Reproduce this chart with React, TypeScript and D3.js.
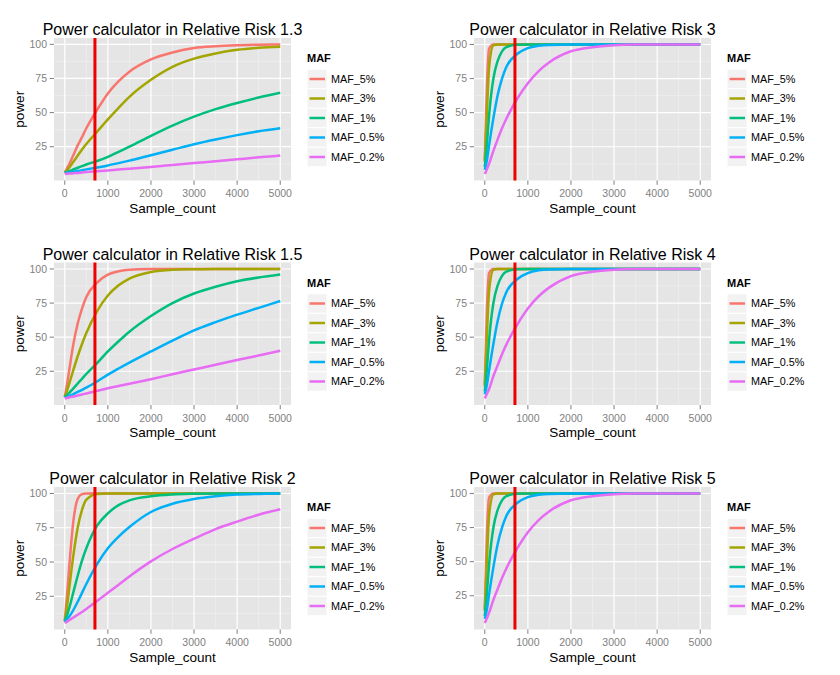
import { scaleLinear, line, curveMonotoneX, extent } from 'd3'

const sampleCounts = [0, 50, 100, 200, 300, 400, 500, 750, 1000, 1250, 1500, 2000, 2500, 3000, 3500, 4000, 4500, 5000]
const mafNames = ['MAF_5%', 'MAF_3%', 'MAF_1%', 'MAF_0.5%', 'MAF_0.2%']
const mafColors = ['#F8766D', '#A3A500', '#00BF7D', '#00B0F6', '#E76BF3']
const xTicks = [0, 1000, 2000, 3000, 4000, 5000]
const yTicks = [25, 50, 75, 100]
const cutoffSample = 700

// power (%) per MAF at sampleCounts
const rr13 = [
  [6, 9, 12, 19, 26, 32, 38.5, 52, 64, 73, 80, 89, 94, 97.3, 98.6, 99.3, 99.7, 99.9],
  [6, 7.5, 9.5, 14, 18.5, 23, 27, 36, 45, 53.5, 61.5, 74, 83.5, 89.5, 93.3, 96, 97.5, 98.3],
  [6, 6.5, 7, 8.3, 9.6, 10.8, 12, 14.5, 17.5, 21.3, 25, 33, 40.5, 47, 52.5, 57, 61, 64.5],
  [5.5, 5.8, 6.1, 6.6, 7.2, 7.8, 8.4, 9.8, 11.3, 13, 14.8, 18.8, 22.8, 26.8, 30.3, 33.5, 36.3, 38.5],
  [5, 5.2, 5.3, 5.6, 5.8, 6.1, 6.4, 7, 7.6, 8.3, 8.9, 10.2, 11.6, 13, 14.4, 15.8, 17.2, 18.5],
]
const rr15 = [
  [6, 15, 25, 45, 60, 71, 79.5, 90, 95.8, 98.3, 99.4, 99.9, 100, 100, 100, 100, 100, 100],
  [6, 10.5, 15.5, 26, 36, 45, 53, 69, 80.5, 88, 93, 97.8, 99.4, 99.8, 100, 100, 100, 100],
  [6, 7.5, 9, 12.5, 16, 19.5, 23, 31, 39.5, 47, 54, 65.5, 75, 82, 87, 91, 93.8, 96],
  [5.5, 6, 6.8, 8.2, 9.8, 11.4, 13, 17.5, 22.5, 27, 31.3, 39.5, 47.5, 55, 61, 66.5, 71.5, 76.5],
  [5, 5.4, 5.8, 6.5, 7.2, 8, 8.7, 10.6, 12.5, 14.2, 15.8, 19.2, 22.8, 26.3, 29.8, 33.2, 36.5, 40],
]
const rr2 = [
  [7, 25, 45, 80, 96, 99.5, 100, 100, 100, 100, 100, 100, 100, 100, 100, 100, 100, 100],
  [7, 17, 30, 55, 75, 88, 95.5, 99.7, 100, 100, 100, 100, 100, 100, 100, 100, 100, 100],
  [7, 11, 16, 28, 40, 51, 60, 76.5, 85.5, 91.5, 95, 98, 99.3, 99.8, 100, 100, 100, 100],
  [6, 8, 10, 15, 21, 27.5, 34, 48.5, 60, 68.5, 75.5, 86.5, 92.5, 96, 98, 99.2, 99.7, 100],
  [5.5, 6.5, 7.5, 9.5, 11.5, 13.5, 15.8, 21.5, 27.5, 33.5, 39.5, 50.5, 59.5, 67, 74, 79.5, 84.5, 88.5],
]
const rr3 = [
  [15, 70, 97, 100, 100, 100, 100, 100, 100, 100, 100, 100, 100, 100, 100, 100, 100, 100],
  [14, 50, 83, 99.3, 100, 100, 100, 100, 100, 100, 100, 100, 100, 100, 100, 100, 100, 100],
  [10, 27, 48, 75, 88, 95, 98, 99.8, 100, 100, 100, 100, 100, 100, 100, 100, 100, 100],
  [8, 15, 26, 46, 63, 75, 83.5, 93, 97.3, 99, 99.7, 100, 100, 100, 100, 100, 100, 100],
  [5, 8.5, 12.5, 22, 30.5, 38.5, 45.5, 60, 71.5, 80.5, 87, 95, 98, 99.4, 99.9, 100, 100, 100],
]
const rr4 = [
  [15, 71, 97, 100, 100, 100, 100, 100, 100, 100, 100, 100, 100, 100, 100, 100, 100, 100],
  [14, 51, 84, 99.4, 100, 100, 100, 100, 100, 100, 100, 100, 100, 100, 100, 100, 100, 100],
  [10, 27, 48, 75, 88, 95, 98, 99.8, 100, 100, 100, 100, 100, 100, 100, 100, 100, 100],
  [8, 15, 25.5, 45, 62, 74.5, 83, 92.5, 97, 99, 99.7, 100, 100, 100, 100, 100, 100, 100],
  [5, 8.5, 12, 21.5, 29.5, 37.5, 44.5, 59, 71, 80, 86.5, 94.8, 98, 99.4, 99.9, 100, 100, 100],
]
const rr5 = [
  [15, 71, 97, 100, 100, 100, 100, 100, 100, 100, 100, 100, 100, 100, 100, 100, 100, 100],
  [14, 51, 84, 99.4, 100, 100, 100, 100, 100, 100, 100, 100, 100, 100, 100, 100, 100, 100],
  [10, 27, 48, 75, 88, 95, 98, 99.8, 100, 100, 100, 100, 100, 100, 100, 100, 100, 100],
  [8, 15, 26, 46, 63, 75, 83.5, 93, 97.3, 99, 99.7, 100, 100, 100, 100, 100, 100, 100],
  [5, 8.5, 12.5, 22, 30, 38, 45, 59.5, 71.5, 80.5, 87, 95, 98, 99.4, 99.9, 100, 100, 100],
]

const panels = [
  { title: 'Power calculator in Relative Risk 1.3', series: rr13, col: 0, row: 0 },
  { title: 'Power calculator in Relative Risk 1.5', series: rr15, col: 0, row: 1 },
  { title: 'Power calculator in Relative Risk 2', series: rr2, col: 0, row: 2 },
  { title: 'Power calculator in Relative Risk 3', series: rr3, col: 1, row: 0 },
  { title: 'Power calculator in Relative Risk 4', series: rr4, col: 1, row: 1 },
  { title: 'Power calculator in Relative Risk 5', series: rr5, col: 1, row: 2 },
]

const W = 237
const H = 142.5
const colX = [54, 474]
const rowY = [38, 262.5, 487]
const font = 'Liberation Sans, Arial, sans-serif'
const grey50 = '#7F7F7F'

const Panel = ({ x0, y0, title, series }) => {
  const xScale = scaleLinear().domain([-250, 5250]).range([0, W])
  const [lo, hi] = extent(series.flat())
  const pad = (hi - lo) * 0.05
  const yScale = scaleLinear().domain([lo - pad, hi + pad]).range([H, 0])

  const path = line().x((d, i) => xScale(sampleCounts[i])).y(d => yScale(d)).curve(curveMonotoneX)

  const xMinor = xTicks.slice(0, -1).map(t => t + 500)
  const yMinor = [12.5, 37.5, 62.5, 87.5]

  return (
    <g transform={`translate(${x0},${y0})`} fontFamily={font}>
      <rect x={0} y={0} width={W} height={H} fill="#E5E5E5" />
      {xMinor.map(t => <line key={'xm' + t} x1={xScale(t)} x2={xScale(t)} y1={0} y2={H} stroke="#F2F2F2" strokeWidth={0.6} />)}
      {yMinor.map(t => <line key={'ym' + t} x1={0} x2={W} y1={yScale(t)} y2={yScale(t)} stroke="#F2F2F2" strokeWidth={0.6} />)}
      {xTicks.map(t => <line key={'xg' + t} x1={xScale(t)} x2={xScale(t)} y1={0} y2={H} stroke="#fff" strokeWidth={1.2} />)}
      {yTicks.map(t => <line key={'yg' + t} x1={0} x2={W} y1={yScale(t)} y2={yScale(t)} stroke="#fff" strokeWidth={1.2} />)}

      {series.map((s, i) => (
        <path key={mafNames[i]} d={path(s)} fill="none" stroke={mafColors[i]} strokeWidth={2.5} strokeLinejoin="round" />
      ))}

      <line x1={xScale(cutoffSample)} x2={xScale(cutoffSample)} y1={0} y2={H} stroke="#EE0000" strokeWidth={3} />

      {/* axes */}
      {xTicks.map(t => (
        <g key={'xt' + t}>
          <line x1={xScale(t)} x2={xScale(t)} y1={H} y2={H + 4.3} stroke={grey50} />
          <text x={xScale(t)} y={H + 16.5} textAnchor="middle" fontSize={10.5} fill={grey50}>{t}</text>
        </g>
      ))}
      {yTicks.map(t => (
        <g key={'yt' + t}>
          <line x1={-4.3} x2={0} y1={yScale(t)} y2={yScale(t)} stroke={grey50} />
          <text x={-7} y={yScale(t)} dy="0.35em" textAnchor="end" fontSize={10.5} fill={grey50}>{t}</text>
        </g>
      ))}
      <text x={W / 2} y={H + 32} textAnchor="middle" fontSize={13.5} fill="#000">Sample_count</text>
      <text transform={`translate(-30.5,${H / 2}) rotate(-90)`} textAnchor="middle" fontSize={13.5} fill="#000">power</text>
      <text x={W / 2} y={-3} textAnchor="middle" fontSize={16} fill="#000">{title}</text>

      {/* legend */}
      <text x={253} y={24.3} fontSize={11} fontWeight="bold" fill="#000">MAF</text>
      {mafNames.map((m, i) => {
        const cy = 41 + i * 19.5
        return (
          <g key={'lg' + m}>
            <rect x={253} y={cy - 9.75} width={20} height={19.5} fill="#F2F2F2" stroke="#fff" />
            <line x1={255.5} x2={271} y1={cy} y2={cy} stroke={mafColors[i]} strokeWidth={2.5} />
            <text x={277} y={cy} dy="0.36em" fontSize={10.8} fill="#000">{m}</text>
          </g>
        )
      })}
    </g>
  )
}

export default function App() {
  return (
    <div style={{ position: 'absolute', left: 0, top: 0 }}>
      <svg width={840} height={675} viewBox="0 0 840 675" style={{ display: 'block', background: '#fff' }}>
        {panels.map(p => (
          <Panel key={p.title} x0={colX[p.col]} y0={rowY[p.row]} title={p.title} series={p.series} />
        ))}
      </svg>
    </div>
  )
}
